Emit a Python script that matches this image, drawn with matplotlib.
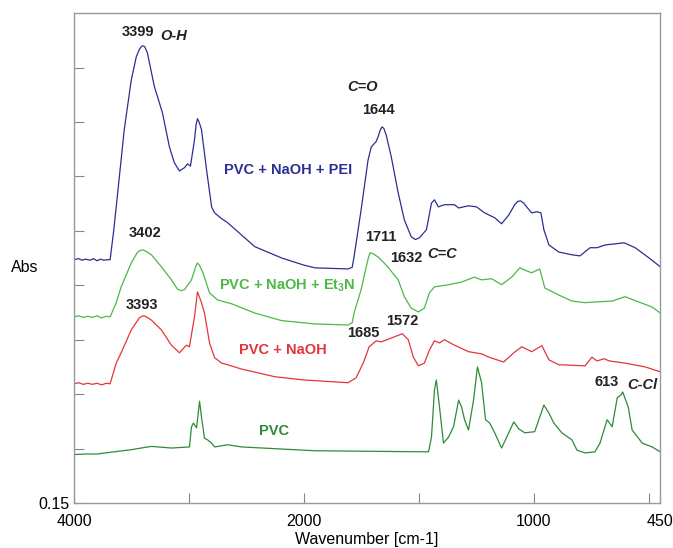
import matplotlib
matplotlib.use("Agg")
import matplotlib.pyplot as plt
import numpy as np

plt.rcParams['font.family'] = ['Liberation Sans', 'DejaVu Sans']
plt.rcParams['mathtext.fontset'] = 'custom'
plt.rcParams['mathtext.bf'] = 'Liberation Sans:bold'
plt.rcParams['mathtext.rm'] = 'Liberation Sans'

# spectra: wavenumber [cm-1] and absorbance
pei_wn = [4000, 3960, 3930, 3900, 3860, 3830, 3800, 3770, 3740, 3710, 3686, 3655, 3624, 3563,
          3502, 3458, 3430, 3412, 3399, 3384, 3362, 3301, 3231, 3170, 3127, 3083, 3039, 3013,
          2987, 2952, 2938, 2926, 2912, 2891, 2847, 2803, 2777, 2720, 2664, 2428, 2192, 2000,
          1952, 1808, 1790, 1782, 1751, 1721, 1707, 1686, 1677, 1668, 1660, 1652, 1642, 1620,
          1590, 1563, 1533, 1515, 1498, 1467, 1445, 1432, 1415, 1389, 1345, 1327, 1284, 1249,
          1214, 1170, 1140, 1109, 1083, 1070, 1057, 1044, 1031, 1009, 987, 969, 956, 934, 891,
          834, 799, 755, 725, 690, 607, 559, 498, 450]
pei_abs = [0.597, 0.599, 0.596, 0.598, 0.596, 0.599, 0.595, 0.598, 0.596, 0.597, 0.597, 0.650,
           0.712, 0.836, 0.927, 0.970, 0.984, 0.989, 0.990, 0.988, 0.977, 0.915, 0.867, 0.804,
           0.775, 0.760, 0.766, 0.773, 0.769, 0.817, 0.845, 0.856, 0.850, 0.836, 0.762, 0.694,
           0.683, 0.673, 0.665, 0.621, 0.600, 0.587, 0.582, 0.580, 0.583, 0.602, 0.689, 0.780,
           0.804, 0.814, 0.823, 0.835, 0.841, 0.838, 0.826, 0.786, 0.720, 0.670, 0.639, 0.634,
           0.637, 0.652, 0.701, 0.707, 0.694, 0.698, 0.698, 0.692, 0.696, 0.694, 0.683, 0.674,
           0.663, 0.679, 0.698, 0.704, 0.705, 0.701, 0.694, 0.683, 0.685, 0.683, 0.652, 0.624,
           0.611, 0.606, 0.604, 0.619, 0.619, 0.624, 0.628, 0.619, 0.600, 0.584]

et3n_wn = [4000, 3960, 3920, 3880, 3840, 3800, 3760, 3720, 3686, 3633, 3590, 3502, 3450, 3425,
           3402, 3370, 3327, 3240, 3153, 3100, 3070, 3039, 2978, 2940, 2926, 2910, 2882, 2821,
           2751, 2629, 2428, 2192, 2000, 1952, 1808, 1790, 1782, 1751, 1729, 1718, 1711, 1700,
           1677, 1651, 1632, 1590, 1563, 1533, 1502, 1476, 1454, 1432, 1371, 1314, 1258, 1227,
           1183, 1140, 1096, 1061, 1040, 1009, 974, 952, 891, 834, 777, 747, 659, 603, 541,
           485, 450]
et3n_abs = [0.492, 0.494, 0.491, 0.493, 0.491, 0.494, 0.490, 0.493, 0.492, 0.518, 0.547, 0.591,
            0.610, 0.614, 0.615, 0.612, 0.606, 0.584, 0.560, 0.543, 0.540, 0.542, 0.560, 0.585,
            0.591, 0.587, 0.575, 0.536, 0.523, 0.516, 0.499, 0.485, 0.481, 0.479, 0.477, 0.481,
            0.499, 0.542, 0.584, 0.603, 0.610, 0.608, 0.602, 0.591, 0.582, 0.560, 0.529, 0.508,
            0.501, 0.508, 0.536, 0.547, 0.551, 0.556, 0.565, 0.560, 0.562, 0.551, 0.565, 0.582,
            0.578, 0.573, 0.580, 0.545, 0.532, 0.521, 0.518, 0.519, 0.521, 0.529, 0.519, 0.510,
            0.499]

naoh_wn = [4000, 3960, 3920, 3880, 3840, 3800, 3760, 3720, 3686, 3633, 3590, 3502, 3432, 3410,
           3393, 3370, 3327, 3240, 3153, 3083, 3022, 2996, 2952, 2926, 2891, 2865, 2821, 2777,
           2716, 2664, 2541, 2253, 2000, 1808, 1773, 1742, 1716, 1685, 1664, 1620, 1590, 1572,
           1546, 1524, 1502, 1476, 1454, 1432, 1410, 1389, 1345, 1284, 1227, 1196, 1131, 1087,
           1052, 1009, 965, 934, 891, 777, 747, 725, 694, 672, 603, 515, 450]
naoh_abs = [0.369, 0.371, 0.368, 0.370, 0.368, 0.370, 0.367, 0.370, 0.369, 0.407, 0.426, 0.468,
            0.490, 0.493, 0.494, 0.492, 0.486, 0.468, 0.440, 0.426, 0.440, 0.437, 0.492, 0.538,
            0.518, 0.499, 0.444, 0.417, 0.407, 0.404, 0.396, 0.382, 0.376, 0.371, 0.380, 0.407,
            0.437, 0.448, 0.446, 0.453, 0.458, 0.461, 0.450, 0.418, 0.402, 0.407, 0.431, 0.448,
            0.444, 0.450, 0.440, 0.428, 0.424, 0.418, 0.409, 0.426, 0.437, 0.428, 0.439, 0.413,
            0.404, 0.402, 0.418, 0.411, 0.415, 0.411, 0.407, 0.400, 0.391]

pvc_wn = [4000, 3900, 3800, 3651, 3500, 3415, 3327, 3153, 2996, 2978, 2961, 2934, 2908, 2891,
          2865, 2838, 2803, 2777, 2664, 2541, 1952, 1458, 1445, 1432, 1424, 1410, 1393, 1371,
          1349, 1327, 1314, 1301, 1284, 1262, 1245, 1227, 1210, 1192, 1170, 1140, 1109, 1087,
          1065, 1039, 996, 956, 934, 913, 878, 834, 812, 777, 734, 712, 681, 659, 637, 620,
          613, 589, 572, 528, 485, 450]
pvc_abs = [0.239, 0.240, 0.240, 0.244, 0.248, 0.251, 0.254, 0.251, 0.253, 0.290, 0.297, 0.288,
           0.337, 0.308, 0.269, 0.266, 0.260, 0.253, 0.257, 0.253, 0.246, 0.244, 0.271, 0.358,
           0.376, 0.326, 0.260, 0.271, 0.290, 0.339, 0.326, 0.303, 0.284, 0.339, 0.400, 0.371,
           0.303, 0.297, 0.279, 0.251, 0.279, 0.299, 0.286, 0.279, 0.281, 0.330, 0.315, 0.297,
           0.279, 0.266, 0.247, 0.242, 0.244, 0.260, 0.303, 0.290, 0.343, 0.349, 0.354, 0.326,
           0.284, 0.260, 0.253, 0.244]

blue = '#2b2f93'
lgreen = '#4cb848'
red = '#e2363a'
dgreen = '#2f8a36'


# wavenumber axis is compressed 2x above 2000 cm-1
def fwd(w):
    w = np.asarray(w, dtype=float)
    return np.where(w > 2000, 2000 + (w - 2000) / 2, w)


def inv(u):
    u = np.asarray(u, dtype=float)
    return np.where(u > 2000, 2000 + (u - 2000) * 2, u)


fig = plt.figure(figsize=(6.73, 5.48), dpi=100)
ax = fig.add_axes([0.110, 0.0821, 0.871, 0.894])
ax.set_xscale('function', functions=(fwd, inv))

ax.plot(pei_wn, pei_abs, color=blue, lw=0.9)
ax.plot(et3n_wn, et3n_abs, color=lgreen, lw=0.9)
ax.plot(naoh_wn, naoh_abs, color=red, lw=0.9)
ax.plot(pvc_wn, pvc_abs, color=dgreen, lw=0.9)

ax.set_xlim(4000, 450)
ax.set_ylim(0.15, 1.05)

xt = [4000, 3000, 2000, 1500, 1000, 500, 450]
ax.set_xticks(xt)
ax.set_xticklabels(['4000', '', '2000', '', '1000', '', '450'])
yt = [0.15, 0.25, 0.35, 0.45, 0.55, 0.65, 0.75, 0.85, 0.95]
ax.set_yticks(yt)
ax.set_yticklabels(['0.15'] + [''] * (len(yt) - 1))
ax.minorticks_off()
ax.tick_params(direction='in', length=7, color='#888888', labelsize=11.5, width=0.8)
ax.tick_params(axis='x', pad=8)
for s in ax.spines.values():
    s.set_color('#999999')
    s.set_linewidth(1.0)

ax.set_xlabel('Wavenumber [cm-1]', fontsize=11.5, labelpad=2)
fig.text(25 / 673, 1 - 267 / 548, 'Abs', fontsize=11.5, ha='center', va='center')

bk = dict(fontsize=10.5, fontweight='bold', ha='center', va='center', color='#222222')
it = dict(fontsize=10.5, fontweight='bold', style='italic', ha='center', va='center',
          color='#222222')
ax.text(3441, 1.016, '3399', **bk)
ax.text(3135, 1.008, 'O-H', **it)
ax.text(1747, 0.915, 'C=O', **it)
ax.text(1677, 0.872, '1644', **bk)
ax.text(3380, 0.646, '3402', **bk)
ax.text(1664, 0.639, '1711', **bk)
ax.text(1555, 0.600, '1632', **bk)
ax.text(1397, 0.608, 'C=C', **it)
ax.text(3406, 0.514, '3393', **bk)
ax.text(1742, 0.462, '1685', **bk)
ax.text(1572, 0.485, '1572', **bk)
ax.text(681, 0.372, '613', **bk)
ax.text(528, 0.367, 'C-Cl', **it)

lab = dict(fontsize=10.5, fontweight='bold', ha='center', va='center')
ax.text(2140, 0.762, 'PVC + NaOH + PEI', color=blue, **lab)
ax.text(2148, 0.549, 'PVC + NaOH + Et$\\mathbf{_3}$N', color=lgreen, **lab)
ax.text(2182, 0.431, 'PVC + NaOH', color=red, **lab)
ax.text(2262, 0.282, 'PVC', color=dgreen, **lab)

fig.savefig('out.png', dpi=100)
